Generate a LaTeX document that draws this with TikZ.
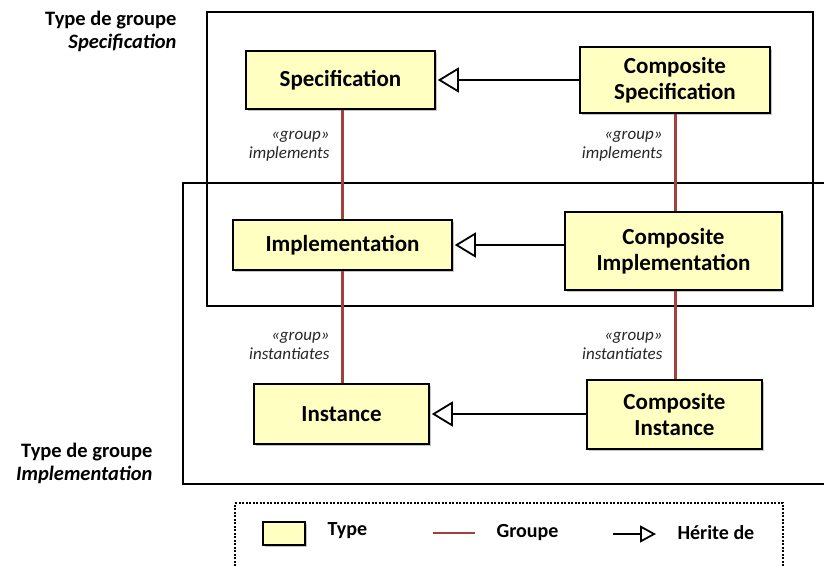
\documentclass[tikz,border=0pt]{standalone}
\usepackage{fontspec}
\setmainfont{Carlito}
\usetikzlibrary{arrows.meta,shadows}
\definecolor{typefill}{HTML}{FFFFC2}
\definecolor{grpred}{HTML}{A3403C}
\tikzset{
  typebox/.style={draw=black, line width=1.6pt, fill=typefill, align=center,
    font=\fontsize{23}{26}\selectfont\bfseries, drop shadow={shadow xshift=2pt, shadow yshift=-2pt, fill=black!45}},
  grp/.style={draw=grpred, line width=3pt},
  inh/.style={draw=black, line width=1.7pt, -{Triangle[open, length=21pt, width=25pt, line width=1.8pt]}},
  frame/.style={draw=black, line width=1.2pt},
  lbl/.style={font=\fontsize{17}{19}\selectfont\itshape, align=right, anchor=east, text=black!85},
  grouptitle/.style={font=\fontsize{20.5}{23}\selectfont\bfseries, align=right, anchor=east},
  legtext/.style={font=\fontsize{20}{22}\selectfont\bfseries, anchor=west},
}
\begin{document}
\begin{tikzpicture}[x=1pt,y=-1pt]
\useasboundingbox (0,0) rectangle (824,565);
% group frames
\draw[frame] (207,12) rectangle (813,306);
\draw[frame] (824,183) -- (183,183) -- (183,484) -- (824,484);
% group titles
\node[grouptitle] (tspec) at (180,31) {Type de groupe\\\textit{Specification}};
\node[grouptitle] (timpl) at (156,463) {Type de groupe\\\textit{Implementation}};
% type boxes
\node[typebox, minimum width=189pt, minimum height=58pt] (spec) at (340.5,80) {Specification};
\node[typebox, minimum width=190pt, minimum height=66pt] (cspec) at (675,80) {Composite\\Specification};
\node[typebox, minimum width=219pt, minimum height=50pt] (impl) at (342.5,245) {Implementation};
\node[typebox, minimum width=217pt, minimum height=78pt] (cimpl) at (673.5,251) {Composite\\Implementation};
\node[typebox, minimum width=175pt, minimum height=60pt] (inst) at (341.5,414) {Instance};
\node[typebox, minimum width=175pt, minimum height=69pt] (cinst) at (674.5,414.5) {Composite\\Instance};
% group links
\draw[grp] (spec.south -| 342,0) -- (impl.north -| 342,0);
\draw[grp] (impl.south -| 342,0) -- (inst.north -| 342,0);
\draw[grp] (cspec.south -| 675,0) -- (cimpl.north -| 675,0);
\draw[grp] (cimpl.south -| 675,0) -- (cinst.north -| 675,0);
% inheritance
\draw[inh] (cspec.west |- spec.east) -- ([xshift=2pt]spec.east);
\draw[inh] (cimpl.west |- impl.east) -- ([xshift=2pt]impl.east);
\draw[inh] (cinst.west |- inst.east) -- ([xshift=2pt]inst.east);
% link labels
\node[lbl] (l1) at (333,146) {«group»\\implements};
\node[lbl] (l2) at (666,146) {«group»\\implements};
\node[lbl] (l3) at (333,346) {«group»\\instantiates};
\node[lbl] (l4) at (666,346) {«group»\\instantiates};
% legend
\draw[black, line width=1.3pt, dash pattern=on 2pt off 1.5pt] (235,566) -- (235,503) -- (783,503) -- (783,566);
\node[draw=black, line width=1.6pt, fill=typefill, minimum width=42pt, minimum height=23pt, inner sep=0pt,
  drop shadow={shadow xshift=1.5pt, shadow yshift=-1.5pt, fill=black!45}] (lgbox) at (284,533.5) {};
\node[legtext] (lgtype) at (324,531) {Type};
\coordinate (lgr1) at (433,533);
\coordinate (lgr2) at (475,533);
\draw[draw=grpred, line width=1.8pt] (lgr1) -- (lgr2);
\node[legtext] (lggrp) at (493,533) {Groupe};
\coordinate (lga1) at (613,534);
\coordinate (lga2) at (656,534);
\draw[black, line width=1.7pt, -{Triangle[open, length=16pt, width=17pt, line width=1.8pt]}] (lga1) -- (lga2);
\node[legtext] (lginh) at (674,533) {Hérite de};
\end{tikzpicture}
\end{document}
